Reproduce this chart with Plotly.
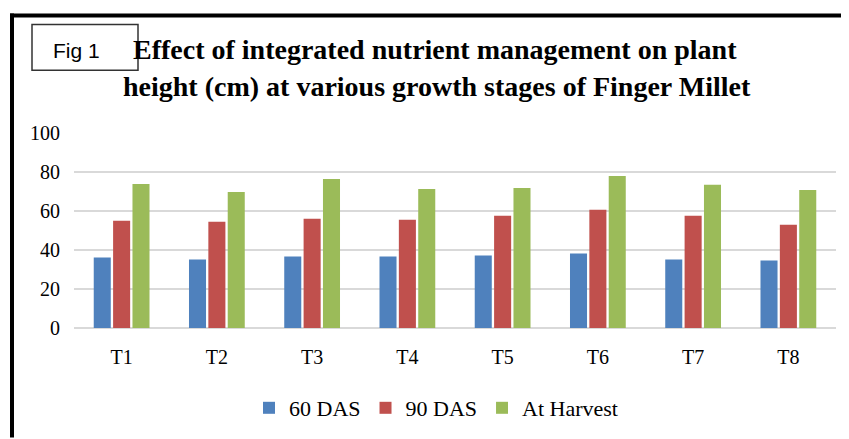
import plotly.graph_objects as go

categories = ["T1", "T2", "T3", "T4", "T5", "T6", "T7", "T8"]
das60 = [36.2, 35.1, 36.7, 36.7, 37.2, 38.2, 35.1, 34.6]
das90 = [55.0, 54.5, 56.0, 55.5, 57.6, 60.6, 57.6, 53.0]
harvest = [73.9, 69.8, 76.4, 71.3, 71.8, 77.9, 73.4, 70.8]
series_names = ["60 DAS", "90 DAS", "At Harvest"]
colors = ["#4F81BD", "#C0504D", "#9BBB59"]
y_ticks = [0, 20, 40, 60, 80, 100]

OFF = 8  # page body margin offset
W, H = 849 - OFF, 439 - OFF
# plot area in screen pixels
SL, SR, ST, SB = 74, 836, 133, 329
L, R, T, B = SL - OFF, SR - OFF, ST - OFF, SB - OFF


def px(x):
    return (x - SL) / (SR - SL)


def py(y):
    return (SB - y) / (SB - ST)


fig = go.Figure()
for name, vals, c in zip(series_names, [das60, das90, harvest], colors):
    fig.add_trace(go.Bar(x=categories, y=vals, name=name, marker_color=c,
                         marker_line_width=0))

serif = "Liberation Serif"

fig.update_layout(
    width=W, height=H,
    margin=dict(l=L, r=W - R, t=T, b=H - B, pad=0),
    paper_bgcolor="white", plot_bgcolor="white",
    barmode="group", bargap=0.39, bargroupgap=0.12,
    font=dict(family=serif, color="black", size=20),
    showlegend=True,
    legend=dict(orientation="h", x=px(436), xanchor="center", y=py(408), yanchor="middle",
                font=dict(family=serif, size=22, color="black"),
                itemwidth=30, traceorder="normal",
                bgcolor="rgba(0,0,0,0)"),
    xaxis=dict(showgrid=False, showline=False, zeroline=False, ticks="",
               tickfont=dict(family=serif, size=20), ticklabelstandoff=15),
    yaxis=dict(range=[0, 100], tickvals=y_ticks, showgrid=True, gridcolor="#D9D9D9",
               gridwidth=2, zeroline=True, zerolinecolor="#D9D9D9", zerolinewidth=2,
               showline=False, ticks="", tickfont=dict(family=serif, size=20),
               ticklabelstandoff=13),
)

# outer border lines (top and left)
fig.add_shape(type="line", xref="paper", yref="paper", x0=px(10), x1=px(849),
              y0=py(15), y1=py(15), line=dict(color="black", width=4))
fig.add_shape(type="line", xref="paper", yref="paper", x0=px(12), x1=px(12),
              y0=py(13), y1=py(439), line=dict(color="black", width=4))

# Fig 1 box
fig.add_shape(type="rect", xref="paper", yref="paper", x0=px(32), x1=px(138),
              y0=py(24), y1=py(70), line=dict(color="#333333", width=1.5),
              fillcolor="white")
fig.add_annotation(text="Fig 1", xref="paper", yref="paper", x=px(51), y=py(50),
                   xanchor="left", yanchor="middle", showarrow=False,
                   font=dict(family="Liberation Sans", size=21, color="black"))

# title lines
fig.add_annotation(text="<b>Effect of integrated nutrient management on plant</b>",
                   xref="paper", yref="paper", x=px(435), y=py(49),
                   xanchor="center", yanchor="middle", showarrow=False,
                   font=dict(family=serif, size=28, color="black"))
fig.add_annotation(text="<b>height (cm) at various growth stages of Finger Millet</b>",
                   xref="paper", yref="paper", x=px(437), y=py(86),
                   xanchor="center", yanchor="middle", showarrow=False,
                   font=dict(family=serif, size=28, color="black"))

fig.write_html("out.html")
